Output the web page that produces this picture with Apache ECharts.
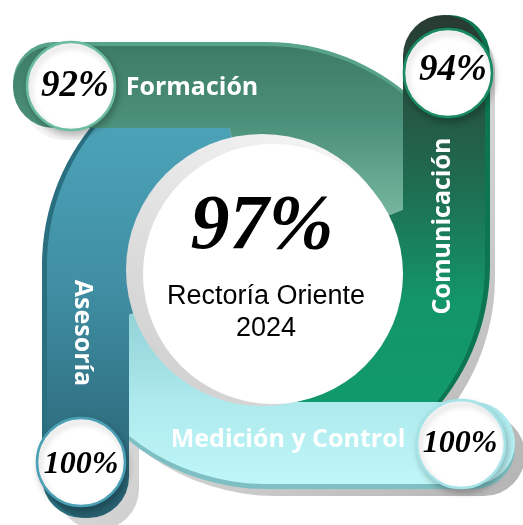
<!DOCTYPE html>
<html>
<head>
<meta charset="utf-8">
<script src="https://cdn.jsdelivr.net/npm/echarts@6/dist/echarts.min.js"></script>
<style>
  html, body { margin: 0; padding: 0; background: #fff; }
  #chart { width: 523px; height: 525px; }
</style>
</head>
<body>
<div id="chart"></div>
<script>
// data: order is top, right, bottom, left
var categories = ['Formación', 'Comunicación', 'Medición y Control', 'Asesoría'];
var values = [92, 94, 100, 100];
var totalValue = 97;
var titleLines = ['Rectoría Oriente', '2024'];

// layout of the pinwheel
var cx = 266, cy = 265, R = 219, W = 82, R0 = 95;
var deg = Math.PI / 180;

function lin(x, y, x2, y2, stops) {
  return {
    type: 'linear', x: x, y: y, x2: x2, y2: y2, global: true,
    colorStops: stops.map(function (s) { return { offset: s[0], color: s[1] }; })
  };
}

var bands = [
  { // top
    sector: [-105, -22],
    arm: { x: 13, y: cy - R, width: cx + 2 - 13, height: W, r: [41, 0, 0, 41] },
    fill: lin(0, cy - R, 0, cy, [[0, '#3e7c67'], [0.35, '#4b907a'], [1, '#8ecbb2']]),
    bevel: { color: '#58a489', dx: 0, dy: -4 },
    circle: { x: 71, y: 86, stroke: '#6cbca3' },
    pct: { x: 75, y: 86, size: 37 },
    label: { x: 192, y: 88, rot: 0 }
  },
  { // right
    sector: [-22, 90],
    arm: { x: cx + R - W, y: 15, width: W, height: cy + 2 - 15, r: [41, 41, 0, 0] },
    fill: lin(0, 15, 0, 400, [[0, '#283a31'], [0.27, '#245a45'], [0.43, '#1f6b50'], [0.74, '#13956a'], [1, '#11996c']]),
    bevel: { color: '#0b7650', dx: 5, dy: 0 },
    circle: { x: 448, y: 73, stroke: '#1a8a62' },
    pct: { x: 453, y: 70, size: 37 },
    label: { x: 443, y: 226, rot: Math.PI / 2 }
  },
  { // bottom
    sector: [90, 160],
    arm: { x: cx - 2, y: cy + R - W, width: 515 - cx + 2, height: W, r: [0, 41, 41, 0] },
    fill: lin(0, 300, 0, cy + R, [[0, '#8ecfd4'], [0.55, '#ade9ed'], [1, '#bff7f9']]),
    bevel: { color: '#7dbfc2', dx: 0, dy: 5 },
    circle: { x: 461, y: 444, stroke: '#a5e3e8' },
    pct: { x: 460, y: 444, size: 32 },
    label: { x: 288, y: 440, rot: 0 }
  },
  { // left
    sector: [160, 255],
    arm: { x: cx - R, y: cy - 2, width: W, height: 518 - cy + 2, r: [0, 0, 41, 41] },
    fill: lin(0, 100, 0, 518, [[0, '#4da6bb'], [0.45, '#408ea3'], [0.85, '#2c6a7b'], [1, '#265d6c']]),
    bevel: { color: '#2a6f80', dx: -5, dy: 0 },
    circle: { x: 81, y: 462, stroke: '#4ba0b6' },
    pct: { x: 81, y: 465, size: 32 },
    label: { x: 82, y: 333, rot: -Math.PI / 2 }
  }
];

function sectorShape(b) {
  return { cx: cx, cy: cy, r: R, r0: R0, startAngle: b.sector[0] * deg, endAngle: b.sector[1] * deg, clockwise: true };
}

var shadowFill = lin(80, 80, 500, 500, [[0, '#f4f4f4'], [1, '#b4b4b4']]);
var elements = [];

// drop shadows
bands.forEach(function (b) {
  elements.push({ type: 'sector', x: 10, y: 12, z: 1, shape: sectorShape(b), style: { fill: shadowFill } });
  elements.push({ type: 'rect', x: 10, y: 12, z: 1, shape: b.arm, style: { fill: shadowFill } });
});

// curved parts, left band first so the top band sits next to it
[3, 0, 1, 2].forEach(function (i) {
  var b = bands[i];
  elements.push({
    type: 'sector', z: 2, shape: sectorShape(b),
    style: { fill: b.fill, shadowColor: b.bevel.color, shadowOffsetX: b.bevel.dx, shadowOffsetY: b.bevel.dy, shadowBlur: 0 }
  });
});

// straight arms on top
bands.forEach(function (b) {
  elements.push({
    type: 'rect', z: 3, shape: b.arm,
    style: { fill: b.fill, shadowColor: b.bevel.color, shadowOffsetX: b.bevel.dx, shadowOffsetY: b.bevel.dy, shadowBlur: 0 }
  });
});

// centre disc
elements.push({
  type: 'circle', z: 4, shape: { cx: 262, cy: 270, r: 136 },
  style: { fill: lin(330, 140, 150, 380, [[0, '#f5f5f5'], [1, '#d0d0d0']]) }
});
elements.push({ type: 'circle', z: 4, shape: { cx: 273, cy: 274, r: 130 }, style: { fill: '#ffffff' } });

// percentage badges
bands.forEach(function (b, i) {
  elements.push({
    type: 'circle', z: 5, shape: { cx: b.circle.x, cy: b.circle.y, r: 44 },
    style: { fill: '#fff', stroke: b.circle.stroke, lineWidth: 2.5,
      shadowColor: 'rgba(0,0,0,0.22)', shadowBlur: 6, shadowOffsetX: 2, shadowOffsetY: 4 }
  });
  elements.push({
    type: 'text', z: 6, x: b.pct.x, y: b.pct.y,
    style: { text: values[i] + '%', fill: '#000', font: 'italic bold ' + b.pct.size + 'px "Liberation Serif"',
      textAlign: 'center', textVerticalAlign: 'middle', align: 'center', verticalAlign: 'middle' }
  });
  elements.push({
    type: 'text', z: 6, x: b.label.x, y: b.label.y, rotation: b.label.rot,
    style: { text: categories[i], fill: '#fff', font: 'bold 25px "Open Sans"',
      textAlign: 'center', textVerticalAlign: 'middle', align: 'center', verticalAlign: 'middle' }
  });
});

// centre texts
elements.push({
  type: 'text', z: 6, x: 262, y: 228,
  style: { text: totalValue + '%', fill: '#000', font: 'italic bold 78px "Liberation Serif"',
    textAlign: 'center', textVerticalAlign: 'middle', align: 'center', verticalAlign: 'middle' }
});
titleLines.forEach(function (t, k) {
  elements.push({
    type: 'text', z: 6, x: 266, y: 297 + k * 32,
    style: { text: t, fill: '#000', font: '27px "Liberation Sans"',
      textAlign: 'center', textVerticalAlign: 'middle', align: 'center', verticalAlign: 'middle' }
  });
});

var chart = echarts.init(document.getElementById('chart'));
chart.setOption({
  animation: false,
  graphic: { elements: elements }
});
</script>
</body>
</html>
